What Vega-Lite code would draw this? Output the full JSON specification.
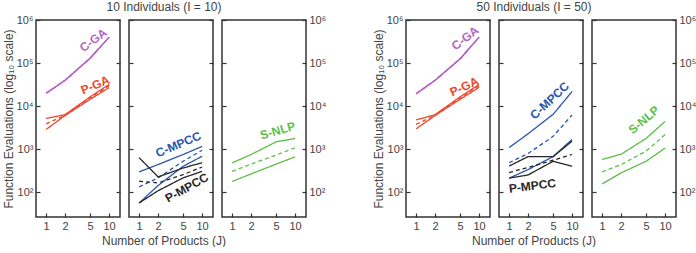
{
  "$schema": "https://vega.github.io/schema/vega-lite/v6.json",
  "padding": {"left": 1, "top": 1, "right": 0, "bottom": 0},
  "background": "white",
  "datasets": {
    "evals": [
      {"grp": "I10", "panel": "GA", "method": "C-GA", "stat": "max", "J": 1, "evals": 20000},
      {"grp": "I10", "panel": "GA", "method": "C-GA", "stat": "max", "J": 2, "evals": 40000},
      {"grp": "I10", "panel": "GA", "method": "C-GA", "stat": "max", "J": 5, "evals": 130000},
      {"grp": "I10", "panel": "GA", "method": "C-GA", "stat": "max", "J": 10, "evals": 400000},
      {"grp": "I10", "panel": "GA", "method": "C-GA", "stat": "mean", "J": 1, "evals": 20000},
      {"grp": "I10", "panel": "GA", "method": "C-GA", "stat": "mean", "J": 2, "evals": 40000},
      {"grp": "I10", "panel": "GA", "method": "C-GA", "stat": "mean", "J": 5, "evals": 130000},
      {"grp": "I10", "panel": "GA", "method": "C-GA", "stat": "mean", "J": 10, "evals": 400000},
      {"grp": "I10", "panel": "GA", "method": "C-GA", "stat": "min", "J": 1, "evals": 20000},
      {"grp": "I10", "panel": "GA", "method": "C-GA", "stat": "min", "J": 2, "evals": 40000},
      {"grp": "I10", "panel": "GA", "method": "C-GA", "stat": "min", "J": 5, "evals": 130000},
      {"grp": "I10", "panel": "GA", "method": "C-GA", "stat": "min", "J": 10, "evals": 400000},
      {"grp": "I10", "panel": "GA", "method": "P-GA", "stat": "max", "J": 1, "evals": 5200},
      {"grp": "I10", "panel": "GA", "method": "P-GA", "stat": "max", "J": 2, "evals": 6400},
      {"grp": "I10", "panel": "GA", "method": "P-GA", "stat": "max", "J": 5, "evals": 16500},
      {"grp": "I10", "panel": "GA", "method": "P-GA", "stat": "max", "J": 10, "evals": 32000},
      {"grp": "I10", "panel": "GA", "method": "P-GA", "stat": "mean", "J": 1, "evals": 3900},
      {"grp": "I10", "panel": "GA", "method": "P-GA", "stat": "mean", "J": 2, "evals": 6200},
      {"grp": "I10", "panel": "GA", "method": "P-GA", "stat": "mean", "J": 5, "evals": 15500},
      {"grp": "I10", "panel": "GA", "method": "P-GA", "stat": "mean", "J": 10, "evals": 30000},
      {"grp": "I10", "panel": "GA", "method": "P-GA", "stat": "min", "J": 1, "evals": 2900},
      {"grp": "I10", "panel": "GA", "method": "P-GA", "stat": "min", "J": 2, "evals": 6100},
      {"grp": "I10", "panel": "GA", "method": "P-GA", "stat": "min", "J": 5, "evals": 14500},
      {"grp": "I10", "panel": "GA", "method": "P-GA", "stat": "min", "J": 10, "evals": 27000},
      {"grp": "I10", "panel": "MPCC", "method": "C-MPCC", "stat": "max", "J": 1, "evals": 300},
      {"grp": "I10", "panel": "MPCC", "method": "C-MPCC", "stat": "max", "J": 2, "evals": 445},
      {"grp": "I10", "panel": "MPCC", "method": "C-MPCC", "stat": "max", "J": 5, "evals": 760},
      {"grp": "I10", "panel": "MPCC", "method": "C-MPCC", "stat": "max", "J": 10, "evals": 1170},
      {"grp": "I10", "panel": "MPCC", "method": "C-MPCC", "stat": "mean", "J": 1, "evals": 135},
      {"grp": "I10", "panel": "MPCC", "method": "C-MPCC", "stat": "mean", "J": 2, "evals": 218},
      {"grp": "I10", "panel": "MPCC", "method": "C-MPCC", "stat": "mean", "J": 5, "evals": 530},
      {"grp": "I10", "panel": "MPCC", "method": "C-MPCC", "stat": "mean", "J": 10, "evals": 955},
      {"grp": "I10", "panel": "MPCC", "method": "C-MPCC", "stat": "min", "J": 1, "evals": 57},
      {"grp": "I10", "panel": "MPCC", "method": "C-MPCC", "stat": "min", "J": 2, "evals": 145},
      {"grp": "I10", "panel": "MPCC", "method": "C-MPCC", "stat": "min", "J": 5, "evals": 405},
      {"grp": "I10", "panel": "MPCC", "method": "C-MPCC", "stat": "min", "J": 10, "evals": 690},
      {"grp": "I10", "panel": "MPCC", "method": "P-MPCC", "stat": "max", "J": 1, "evals": 640},
      {"grp": "I10", "panel": "MPCC", "method": "P-MPCC", "stat": "max", "J": 2, "evals": 230},
      {"grp": "I10", "panel": "MPCC", "method": "P-MPCC", "stat": "max", "J": 5, "evals": 370},
      {"grp": "I10", "panel": "MPCC", "method": "P-MPCC", "stat": "max", "J": 10, "evals": 490},
      {"grp": "I10", "panel": "MPCC", "method": "P-MPCC", "stat": "mean", "J": 1, "evals": 182},
      {"grp": "I10", "panel": "MPCC", "method": "P-MPCC", "stat": "mean", "J": 2, "evals": 167},
      {"grp": "I10", "panel": "MPCC", "method": "P-MPCC", "stat": "mean", "J": 5, "evals": 260},
      {"grp": "I10", "panel": "MPCC", "method": "P-MPCC", "stat": "mean", "J": 10, "evals": 390},
      {"grp": "I10", "panel": "MPCC", "method": "P-MPCC", "stat": "min", "J": 1, "evals": 57},
      {"grp": "I10", "panel": "MPCC", "method": "P-MPCC", "stat": "min", "J": 2, "evals": 110},
      {"grp": "I10", "panel": "MPCC", "method": "P-MPCC", "stat": "min", "J": 5, "evals": 218},
      {"grp": "I10", "panel": "MPCC", "method": "P-MPCC", "stat": "min", "J": 10, "evals": 310},
      {"grp": "I10", "panel": "NLP", "method": "S-NLP", "stat": "max", "J": 1, "evals": 485},
      {"grp": "I10", "panel": "NLP", "method": "S-NLP", "stat": "max", "J": 2, "evals": 760},
      {"grp": "I10", "panel": "NLP", "method": "S-NLP", "stat": "max", "J": 5, "evals": 1500},
      {"grp": "I10", "panel": "NLP", "method": "S-NLP", "stat": "max", "J": 10, "evals": 1780},
      {"grp": "I10", "panel": "NLP", "method": "S-NLP", "stat": "mean", "J": 1, "evals": 310},
      {"grp": "I10", "panel": "NLP", "method": "S-NLP", "stat": "mean", "J": 2, "evals": 455},
      {"grp": "I10", "panel": "NLP", "method": "S-NLP", "stat": "mean", "J": 5, "evals": 740},
      {"grp": "I10", "panel": "NLP", "method": "S-NLP", "stat": "mean", "J": 10, "evals": 1090},
      {"grp": "I10", "panel": "NLP", "method": "S-NLP", "stat": "min", "J": 1, "evals": 180},
      {"grp": "I10", "panel": "NLP", "method": "S-NLP", "stat": "min", "J": 2, "evals": 270},
      {"grp": "I10", "panel": "NLP", "method": "S-NLP", "stat": "min", "J": 5, "evals": 455},
      {"grp": "I10", "panel": "NLP", "method": "S-NLP", "stat": "min", "J": 10, "evals": 670},

      {"grp": "I50", "panel": "GA", "method": "C-GA", "stat": "max", "J": 1, "evals": 19500},
      {"grp": "I50", "panel": "GA", "method": "C-GA", "stat": "max", "J": 2, "evals": 40000},
      {"grp": "I50", "panel": "GA", "method": "C-GA", "stat": "max", "J": 5, "evals": 126000},
      {"grp": "I50", "panel": "GA", "method": "C-GA", "stat": "max", "J": 10, "evals": 400000},
      {"grp": "I50", "panel": "GA", "method": "C-GA", "stat": "mean", "J": 1, "evals": 19500},
      {"grp": "I50", "panel": "GA", "method": "C-GA", "stat": "mean", "J": 2, "evals": 40000},
      {"grp": "I50", "panel": "GA", "method": "C-GA", "stat": "mean", "J": 5, "evals": 126000},
      {"grp": "I50", "panel": "GA", "method": "C-GA", "stat": "mean", "J": 10, "evals": 400000},
      {"grp": "I50", "panel": "GA", "method": "C-GA", "stat": "min", "J": 1, "evals": 19500},
      {"grp": "I50", "panel": "GA", "method": "C-GA", "stat": "min", "J": 2, "evals": 40000},
      {"grp": "I50", "panel": "GA", "method": "C-GA", "stat": "min", "J": 5, "evals": 126000},
      {"grp": "I50", "panel": "GA", "method": "C-GA", "stat": "min", "J": 10, "evals": 400000},
      {"grp": "I50", "panel": "GA", "method": "P-GA", "stat": "max", "J": 1, "evals": 4800},
      {"grp": "I50", "panel": "GA", "method": "P-GA", "stat": "max", "J": 2, "evals": 6400},
      {"grp": "I50", "panel": "GA", "method": "P-GA", "stat": "max", "J": 5, "evals": 16500},
      {"grp": "I50", "panel": "GA", "method": "P-GA", "stat": "max", "J": 10, "evals": 32000},
      {"grp": "I50", "panel": "GA", "method": "P-GA", "stat": "mean", "J": 1, "evals": 3800},
      {"grp": "I50", "panel": "GA", "method": "P-GA", "stat": "mean", "J": 2, "evals": 6200},
      {"grp": "I50", "panel": "GA", "method": "P-GA", "stat": "mean", "J": 5, "evals": 15500},
      {"grp": "I50", "panel": "GA", "method": "P-GA", "stat": "mean", "J": 10, "evals": 30000},
      {"grp": "I50", "panel": "GA", "method": "P-GA", "stat": "min", "J": 1, "evals": 3000},
      {"grp": "I50", "panel": "GA", "method": "P-GA", "stat": "min", "J": 2, "evals": 6100},
      {"grp": "I50", "panel": "GA", "method": "P-GA", "stat": "min", "J": 5, "evals": 14500},
      {"grp": "I50", "panel": "GA", "method": "P-GA", "stat": "min", "J": 10, "evals": 27500},
      {"grp": "I50", "panel": "MPCC", "method": "C-MPCC", "stat": "max", "J": 1, "evals": 1100},
      {"grp": "I50", "panel": "MPCC", "method": "C-MPCC", "stat": "max", "J": 2, "evals": 2300},
      {"grp": "I50", "panel": "MPCC", "method": "C-MPCC", "stat": "max", "J": 5, "evals": 6500},
      {"grp": "I50", "panel": "MPCC", "method": "C-MPCC", "stat": "max", "J": 10, "evals": 22000},
      {"grp": "I50", "panel": "MPCC", "method": "C-MPCC", "stat": "mean", "J": 1, "evals": 490},
      {"grp": "I50", "panel": "MPCC", "method": "C-MPCC", "stat": "mean", "J": 2, "evals": 800},
      {"grp": "I50", "panel": "MPCC", "method": "C-MPCC", "stat": "mean", "J": 5, "evals": 2000},
      {"grp": "I50", "panel": "MPCC", "method": "C-MPCC", "stat": "mean", "J": 10, "evals": 6300},
      {"grp": "I50", "panel": "MPCC", "method": "C-MPCC", "stat": "min", "J": 1, "evals": 215},
      {"grp": "I50", "panel": "MPCC", "method": "C-MPCC", "stat": "min", "J": 2, "evals": 340},
      {"grp": "I50", "panel": "MPCC", "method": "C-MPCC", "stat": "min", "J": 5, "evals": 680},
      {"grp": "I50", "panel": "MPCC", "method": "C-MPCC", "stat": "min", "J": 10, "evals": 1700},
      {"grp": "I50", "panel": "MPCC", "method": "P-MPCC", "stat": "max", "J": 1, "evals": 410},
      {"grp": "I50", "panel": "MPCC", "method": "P-MPCC", "stat": "max", "J": 2, "evals": 680},
      {"grp": "I50", "panel": "MPCC", "method": "P-MPCC", "stat": "max", "J": 5, "evals": 680},
      {"grp": "I50", "panel": "MPCC", "method": "P-MPCC", "stat": "max", "J": 10, "evals": 1550},
      {"grp": "I50", "panel": "MPCC", "method": "P-MPCC", "stat": "mean", "J": 1, "evals": 290},
      {"grp": "I50", "panel": "MPCC", "method": "P-MPCC", "stat": "mean", "J": 2, "evals": 380},
      {"grp": "I50", "panel": "MPCC", "method": "P-MPCC", "stat": "mean", "J": 5, "evals": 560},
      {"grp": "I50", "panel": "MPCC", "method": "P-MPCC", "stat": "mean", "J": 10, "evals": 760},
      {"grp": "I50", "panel": "MPCC", "method": "P-MPCC", "stat": "min", "J": 1, "evals": 215},
      {"grp": "I50", "panel": "MPCC", "method": "P-MPCC", "stat": "min", "J": 2, "evals": 255},
      {"grp": "I50", "panel": "MPCC", "method": "P-MPCC", "stat": "min", "J": 5, "evals": 530},
      {"grp": "I50", "panel": "MPCC", "method": "P-MPCC", "stat": "min", "J": 10, "evals": 405},
      {"grp": "I50", "panel": "NLP", "method": "S-NLP", "stat": "max", "J": 1, "evals": 585},
      {"grp": "I50", "panel": "NLP", "method": "S-NLP", "stat": "max", "J": 2, "evals": 770},
      {"grp": "I50", "panel": "NLP", "method": "S-NLP", "stat": "max", "J": 5, "evals": 1800},
      {"grp": "I50", "panel": "NLP", "method": "S-NLP", "stat": "max", "J": 10, "evals": 4450},
      {"grp": "I50", "panel": "NLP", "method": "S-NLP", "stat": "mean", "J": 1, "evals": 300},
      {"grp": "I50", "panel": "NLP", "method": "S-NLP", "stat": "mean", "J": 2, "evals": 445},
      {"grp": "I50", "panel": "NLP", "method": "S-NLP", "stat": "mean", "J": 5, "evals": 910},
      {"grp": "I50", "panel": "NLP", "method": "S-NLP", "stat": "mean", "J": 10, "evals": 2200},
      {"grp": "I50", "panel": "NLP", "method": "S-NLP", "stat": "min", "J": 1, "evals": 158},
      {"grp": "I50", "panel": "NLP", "method": "S-NLP", "stat": "min", "J": 2, "evals": 285},
      {"grp": "I50", "panel": "NLP", "method": "S-NLP", "stat": "min", "J": 5, "evals": 530},
      {"grp": "I50", "panel": "NLP", "method": "S-NLP", "stat": "min", "J": 10, "evals": 1070}
    ],
    "labels": [
      {"grp": "I10", "method": "C-GA", "J": 5.6, "evals": 340000},
      {"grp": "I10", "method": "P-GA", "J": 6.0, "evals": 31000},
      {"grp": "I10", "method": "C-MPCC", "J": 4.2, "evals": 1300},
      {"grp": "I10", "method": "P-MPCC", "J": 5.7, "evals": 128},
      {"grp": "I10", "method": "S-NLP", "J": 5.3, "evals": 2700},
      {"grp": "I50", "method": "C-GA", "J": 6.0, "evals": 380000},
      {"grp": "I50", "method": "P-GA", "J": 5.8, "evals": 28500},
      {"grp": "I50", "method": "C-MPCC", "J": 4.4, "evals": 13500},
      {"grp": "I50", "method": "P-MPCC", "J": 2.34, "evals": 142},
      {"grp": "I50", "method": "S-NLP", "J": 4.6, "evals": 4800}
    ]
  },
  "config": {
    "font": "Liberation Sans",
    "view": {"stroke": "#333333", "strokeWidth": 1.5},
    "axis": {
      "domain": false,
      "grid": false,
      "ticks": true,
      "tickSize": -4,
      "tickWidth": 1.2,
      "tickColor": "#333333",
      "labelFont": "Liberation Sans",
      "labelFontSize": 11,
      "labelColor": "#444444",
      "labelPadding": 7,
      "titleFont": "Liberation Sans",
      "titleFontSize": 12,
      "titleFontWeight": "normal",
      "titleColor": "#444444"
    },
    "title": {"font": "Liberation Sans", "fontSize": 12, "fontWeight": "normal", "color": "#444444", "anchor": "middle", "offset": -1},
    "text": {"font": "Liberation Sans", "fontSize": 12, "fontWeight": "bold"}
  },
  "spacing": 44,
  "hconcat": [
    {
      "title": "10 Individuals (I = 10)",
      "hconcat": [
        {
          "title": {"text": "Number of Products (J)", "orient": "bottom", "offset": 4},
          "spacing": 5,
          "hconcat": [
            {
              "width": 84, "height": 197,
              "resolve": {"axis": {"y": "independent"}},
              "layer": [
                {
                  "data": {"name": "evals"},
                  "transform": [{"filter": "datum.grp == 'I10' && datum.panel == 'GA'"}],
                  "mark": {"type": "line", "strokeWidth": 1.3},
                  "encoding": {
                    "x": {"field": "J", "type": "quantitative", "scale": {"type": "log", "domain": [0.69, 14.9], "nice": false}, "axis": {"values": [1, 2, 5, 10], "format": "d", "title": null}},
                    "y": {"field": "evals", "type": "quantitative", "scale": {"type": "log", "domain": [27, 1000000], "nice": false}, "axis": {"orient": "left", "values": [100, 1000, 10000, 100000, 1000000], "labelExpr": "datum.value < 500 ? '10²' : datum.value < 5000 ? '10³' : datum.value < 50000 ? '10⁴' : datum.value < 500000 ? '10⁵' : '10⁶'", "title": "Function Evaluations (log₁₀ scale)", "titlePadding": 1}},
                    "color": {"field": "method", "type": "nominal", "scale": {"domain": ["C-GA", "P-GA", "C-MPCC", "P-MPCC", "S-NLP"], "range": ["#B463C8", "#F0462A", "#2A56B0", "#262626", "#5CBF48"]}, "legend": null},
                    "strokeDash": {"field": "stat", "type": "nominal", "scale": {"domain": ["max", "mean", "min"], "range": [[1, 0], [4, 3], [1, 0]]}, "legend": null},
                    "detail": {"field": "stat"}
                  }
                },
                {
                  "data": {"name": "evals"},
                  "transform": [{"filter": "datum.grp == 'I10' && datum.panel == 'GA'"}],
                  "mark": {"type": "point", "opacity": 0},
                  "encoding": {
                    "x": {"field": "J", "type": "quantitative", "axis": {"values": [1, 2, 5, 10], "format": "d", "title": null}},
                    "y": {"field": "evals", "type": "quantitative", "axis": {"orient": "right", "values": [100, 1000, 10000, 100000, 1000000], "labels": false, "title": null}}
                  }
                },
                {
                  "data": {"name": "labels"},
                  "transform": [{"filter": "datum.grp == 'I10' && datum.method == 'C-GA'"}],
                  "mark": {"type": "text", "angle": 323},
                  "encoding": {
                    "x": {"field": "J", "type": "quantitative", "axis": {"values": [1, 2, 5, 10], "format": "d", "title": null}},
                    "y": {"field": "evals", "type": "quantitative", "axis": null},
                    "text": {"field": "method"},
                    "color": {"field": "method", "type": "nominal", "legend": null}
                  }
                },
                {
                  "data": {"name": "labels"},
                  "transform": [{"filter": "datum.grp == 'I10' && datum.method == 'P-GA'"}],
                  "mark": {"type": "text", "angle": 337},
                  "encoding": {
                    "x": {"field": "J", "type": "quantitative", "axis": {"values": [1, 2, 5, 10], "format": "d", "title": null}},
                    "y": {"field": "evals", "type": "quantitative", "axis": null},
                    "text": {"field": "method"},
                    "color": {"field": "method", "type": "nominal", "legend": null}
                  }
                }
              ]
            },
            {
              "width": 84, "height": 197,
              "resolve": {"axis": {"y": "independent"}},
              "layer": [
                {
                  "data": {"name": "evals"},
                  "transform": [{"filter": "datum.grp == 'I10' && datum.panel == 'MPCC'"}],
                  "mark": {"type": "line", "strokeWidth": 1.3},
                  "encoding": {
                    "x": {"field": "J", "type": "quantitative", "scale": {"type": "log", "domain": [0.69, 14.9], "nice": false}, "axis": {"values": [1, 2, 5, 10], "format": "d", "title": null}},
                    "y": {"field": "evals", "type": "quantitative", "scale": {"type": "log", "domain": [27, 1000000], "nice": false}, "axis": {"orient": "left", "values": [100, 1000, 10000, 100000, 1000000], "labels": false, "title": null}},
                    "color": {"field": "method", "type": "nominal", "scale": {"domain": ["C-GA", "P-GA", "C-MPCC", "P-MPCC", "S-NLP"], "range": ["#B463C8", "#F0462A", "#2A56B0", "#262626", "#5CBF48"]}, "legend": null},
                    "strokeDash": {"field": "stat", "type": "nominal", "scale": {"domain": ["max", "mean", "min"], "range": [[1, 0], [4, 3], [1, 0]]}, "legend": null},
                    "detail": {"field": "stat"}
                  }
                },
                {
                  "data": {"name": "evals"},
                  "transform": [{"filter": "datum.grp == 'I10' && datum.panel == 'MPCC'"}],
                  "mark": {"type": "point", "opacity": 0},
                  "encoding": {
                    "x": {"field": "J", "type": "quantitative", "axis": {"values": [1, 2, 5, 10], "format": "d", "title": null}},
                    "y": {"field": "evals", "type": "quantitative", "axis": {"orient": "right", "values": [100, 1000, 10000, 100000, 1000000], "labels": false, "title": null}}
                  }
                },
                {
                  "data": {"name": "labels"},
                  "transform": [{"filter": "datum.grp == 'I10' && datum.method == 'C-MPCC'"}],
                  "mark": {"type": "text", "angle": 337},
                  "encoding": {
                    "x": {"field": "J", "type": "quantitative", "axis": {"values": [1, 2, 5, 10], "format": "d", "title": null}},
                    "y": {"field": "evals", "type": "quantitative", "axis": null},
                    "text": {"field": "method"},
                    "color": {"field": "method", "type": "nominal", "legend": null}
                  }
                },
                {
                  "data": {"name": "labels"},
                  "transform": [{"filter": "datum.grp == 'I10' && datum.method == 'P-MPCC'"}],
                  "mark": {"type": "text", "angle": 331},
                  "encoding": {
                    "x": {"field": "J", "type": "quantitative", "axis": {"values": [1, 2, 5, 10], "format": "d", "title": null}},
                    "y": {"field": "evals", "type": "quantitative", "axis": null},
                    "text": {"field": "method"},
                    "color": {"field": "method", "type": "nominal", "legend": null}
                  }
                }
              ]
            },
            {
              "width": 84, "height": 197,
              "resolve": {"axis": {"y": "independent"}},
              "layer": [
                {
                  "data": {"name": "evals"},
                  "transform": [{"filter": "datum.grp == 'I10' && datum.panel == 'NLP'"}],
                  "mark": {"type": "line", "strokeWidth": 1.3},
                  "encoding": {
                    "x": {"field": "J", "type": "quantitative", "scale": {"type": "log", "domain": [0.69, 14.9], "nice": false}, "axis": {"values": [1, 2, 5, 10], "format": "d", "title": null}},
                    "y": {"field": "evals", "type": "quantitative", "scale": {"type": "log", "domain": [27, 1000000], "nice": false}, "axis": {"orient": "left", "values": [100, 1000, 10000, 100000, 1000000], "labels": false, "title": null}},
                    "color": {"field": "method", "type": "nominal", "scale": {"domain": ["C-GA", "P-GA", "C-MPCC", "P-MPCC", "S-NLP"], "range": ["#B463C8", "#F0462A", "#2A56B0", "#262626", "#5CBF48"]}, "legend": null},
                    "strokeDash": {"field": "stat", "type": "nominal", "scale": {"domain": ["max", "mean", "min"], "range": [[1, 0], [4, 3], [1, 0]]}, "legend": null},
                    "detail": {"field": "stat"}
                  }
                },
                {
                  "data": {"name": "evals"},
                  "transform": [{"filter": "datum.grp == 'I10' && datum.panel == 'NLP'"}],
                  "mark": {"type": "point", "opacity": 0},
                  "encoding": {
                    "x": {"field": "J", "type": "quantitative", "axis": {"values": [1, 2, 5, 10], "format": "d", "title": null}},
                    "y": {"field": "evals", "type": "quantitative", "axis": {"orient": "right", "values": [100, 1000, 10000, 100000, 1000000], "labelColor": "#444444", "labelExpr": "datum.value < 500 ? '10²' : datum.value < 5000 ? '10³' : datum.value < 50000 ? '10⁴' : datum.value < 500000 ? '10⁵' : '10⁶'", "title": null}}
                  }
                },
                {
                  "data": {"name": "labels"},
                  "transform": [{"filter": "datum.grp == 'I10' && datum.method == 'S-NLP'"}],
                  "mark": {"type": "text", "angle": 344},
                  "encoding": {
                    "x": {"field": "J", "type": "quantitative", "axis": {"values": [1, 2, 5, 10], "format": "d", "title": null}},
                    "y": {"field": "evals", "type": "quantitative", "axis": null},
                    "text": {"field": "method"},
                    "color": {"field": "method", "type": "nominal", "legend": null}
                  }
                }
              ]
            }
          ]
        }
      ]
    },
    {
      "title": "50 Individuals (I = 50)",
      "hconcat": [
        {
          "title": {"text": "Number of Products (J)", "orient": "bottom", "offset": 4},
          "spacing": 5,
          "hconcat": [
            {
              "width": 84, "height": 197,
              "resolve": {"axis": {"y": "independent"}},
              "layer": [
                {
                  "data": {"name": "evals"},
                  "transform": [{"filter": "datum.grp == 'I50' && datum.panel == 'GA'"}],
                  "mark": {"type": "line", "strokeWidth": 1.3},
                  "encoding": {
                    "x": {"field": "J", "type": "quantitative", "scale": {"type": "log", "domain": [0.69, 14.9], "nice": false}, "axis": {"values": [1, 2, 5, 10], "format": "d", "title": null}},
                    "y": {"field": "evals", "type": "quantitative", "scale": {"type": "log", "domain": [27, 1000000], "nice": false}, "axis": {"orient": "left", "values": [100, 1000, 10000, 100000, 1000000], "labelExpr": "datum.value < 500 ? '10²' : datum.value < 5000 ? '10³' : datum.value < 50000 ? '10⁴' : datum.value < 500000 ? '10⁵' : '10⁶'", "title": "Function Evaluations (log₁₀ scale)", "titlePadding": 1}},
                    "color": {"field": "method", "type": "nominal", "scale": {"domain": ["C-GA", "P-GA", "C-MPCC", "P-MPCC", "S-NLP"], "range": ["#B463C8", "#F0462A", "#2A56B0", "#262626", "#5CBF48"]}, "legend": null},
                    "strokeDash": {"field": "stat", "type": "nominal", "scale": {"domain": ["max", "mean", "min"], "range": [[1, 0], [4, 3], [1, 0]]}, "legend": null},
                    "detail": {"field": "stat"}
                  }
                },
                {
                  "data": {"name": "evals"},
                  "transform": [{"filter": "datum.grp == 'I50' && datum.panel == 'GA'"}],
                  "mark": {"type": "point", "opacity": 0},
                  "encoding": {
                    "x": {"field": "J", "type": "quantitative", "axis": {"values": [1, 2, 5, 10], "format": "d", "title": null}},
                    "y": {"field": "evals", "type": "quantitative", "axis": {"orient": "right", "values": [100, 1000, 10000, 100000, 1000000], "labels": false, "title": null}}
                  }
                },
                {
                  "data": {"name": "labels"},
                  "transform": [{"filter": "datum.grp == 'I50' && datum.method == 'C-GA'"}],
                  "mark": {"type": "text", "angle": 322},
                  "encoding": {
                    "x": {"field": "J", "type": "quantitative", "axis": {"values": [1, 2, 5, 10], "format": "d", "title": null}},
                    "y": {"field": "evals", "type": "quantitative", "axis": null},
                    "text": {"field": "method"},
                    "color": {"field": "method", "type": "nominal", "legend": null}
                  }
                },
                {
                  "data": {"name": "labels"},
                  "transform": [{"filter": "datum.grp == 'I50' && datum.method == 'P-GA'"}],
                  "mark": {"type": "text", "angle": 335},
                  "encoding": {
                    "x": {"field": "J", "type": "quantitative", "axis": {"values": [1, 2, 5, 10], "format": "d", "title": null}},
                    "y": {"field": "evals", "type": "quantitative", "axis": null},
                    "text": {"field": "method"},
                    "color": {"field": "method", "type": "nominal", "legend": null}
                  }
                }
              ]
            },
            {
              "width": 84, "height": 197,
              "resolve": {"axis": {"y": "independent"}},
              "layer": [
                {
                  "data": {"name": "evals"},
                  "transform": [{"filter": "datum.grp == 'I50' && datum.panel == 'MPCC'"}],
                  "mark": {"type": "line", "strokeWidth": 1.3},
                  "encoding": {
                    "x": {"field": "J", "type": "quantitative", "scale": {"type": "log", "domain": [0.69, 14.9], "nice": false}, "axis": {"values": [1, 2, 5, 10], "format": "d", "title": null}},
                    "y": {"field": "evals", "type": "quantitative", "scale": {"type": "log", "domain": [27, 1000000], "nice": false}, "axis": {"orient": "left", "values": [100, 1000, 10000, 100000, 1000000], "labels": false, "title": null}},
                    "color": {"field": "method", "type": "nominal", "scale": {"domain": ["C-GA", "P-GA", "C-MPCC", "P-MPCC", "S-NLP"], "range": ["#B463C8", "#F0462A", "#2A56B0", "#262626", "#5CBF48"]}, "legend": null},
                    "strokeDash": {"field": "stat", "type": "nominal", "scale": {"domain": ["max", "mean", "min"], "range": [[1, 0], [4, 3], [1, 0]]}, "legend": null},
                    "detail": {"field": "stat"}
                  }
                },
                {
                  "data": {"name": "evals"},
                  "transform": [{"filter": "datum.grp == 'I50' && datum.panel == 'MPCC'"}],
                  "mark": {"type": "point", "opacity": 0},
                  "encoding": {
                    "x": {"field": "J", "type": "quantitative", "axis": {"values": [1, 2, 5, 10], "format": "d", "title": null}},
                    "y": {"field": "evals", "type": "quantitative", "axis": {"orient": "right", "values": [100, 1000, 10000, 100000, 1000000], "labels": false, "title": null}}
                  }
                },
                {
                  "data": {"name": "labels"},
                  "transform": [{"filter": "datum.grp == 'I50' && datum.method == 'C-MPCC'"}],
                  "mark": {"type": "text", "angle": 317},
                  "encoding": {
                    "x": {"field": "J", "type": "quantitative", "axis": {"values": [1, 2, 5, 10], "format": "d", "title": null}},
                    "y": {"field": "evals", "type": "quantitative", "axis": null},
                    "text": {"field": "method"},
                    "color": {"field": "method", "type": "nominal", "legend": null}
                  }
                },
                {
                  "data": {"name": "labels"},
                  "transform": [{"filter": "datum.grp == 'I50' && datum.method == 'P-MPCC'"}],
                  "mark": {"type": "text", "angle": 353},
                  "encoding": {
                    "x": {"field": "J", "type": "quantitative", "axis": {"values": [1, 2, 5, 10], "format": "d", "title": null}},
                    "y": {"field": "evals", "type": "quantitative", "axis": null},
                    "text": {"field": "method"},
                    "color": {"field": "method", "type": "nominal", "legend": null}
                  }
                }
              ]
            },
            {
              "width": 84, "height": 197,
              "resolve": {"axis": {"y": "independent"}},
              "layer": [
                {
                  "data": {"name": "evals"},
                  "transform": [{"filter": "datum.grp == 'I50' && datum.panel == 'NLP'"}],
                  "mark": {"type": "line", "strokeWidth": 1.3},
                  "encoding": {
                    "x": {"field": "J", "type": "quantitative", "scale": {"type": "log", "domain": [0.69, 14.9], "nice": false}, "axis": {"values": [1, 2, 5, 10], "format": "d", "title": null}},
                    "y": {"field": "evals", "type": "quantitative", "scale": {"type": "log", "domain": [27, 1000000], "nice": false}, "axis": {"orient": "left", "values": [100, 1000, 10000, 100000, 1000000], "labels": false, "title": null}},
                    "color": {"field": "method", "type": "nominal", "scale": {"domain": ["C-GA", "P-GA", "C-MPCC", "P-MPCC", "S-NLP"], "range": ["#B463C8", "#F0462A", "#2A56B0", "#262626", "#5CBF48"]}, "legend": null},
                    "strokeDash": {"field": "stat", "type": "nominal", "scale": {"domain": ["max", "mean", "min"], "range": [[1, 0], [4, 3], [1, 0]]}, "legend": null},
                    "detail": {"field": "stat"}
                  }
                },
                {
                  "data": {"name": "evals"},
                  "transform": [{"filter": "datum.grp == 'I50' && datum.panel == 'NLP'"}],
                  "mark": {"type": "point", "opacity": 0},
                  "encoding": {
                    "x": {"field": "J", "type": "quantitative", "axis": {"values": [1, 2, 5, 10], "format": "d", "title": null}},
                    "y": {"field": "evals", "type": "quantitative", "axis": {"orient": "right", "values": [100, 1000, 10000, 100000, 1000000], "labelColor": "#444444", "labelExpr": "datum.value < 500 ? '10²' : datum.value < 5000 ? '10³' : datum.value < 50000 ? '10⁴' : datum.value < 500000 ? '10⁵' : '10⁶'", "title": null}}
                  }
                },
                {
                  "data": {"name": "labels"},
                  "transform": [{"filter": "datum.grp == 'I50' && datum.method == 'S-NLP'"}],
                  "mark": {"type": "text", "angle": 320},
                  "encoding": {
                    "x": {"field": "J", "type": "quantitative", "axis": {"values": [1, 2, 5, 10], "format": "d", "title": null}},
                    "y": {"field": "evals", "type": "quantitative", "axis": null},
                    "text": {"field": "method"},
                    "color": {"field": "method", "type": "nominal", "legend": null}
                  }
                }
              ]
            }
          ]
        }
      ]
    }
  ]
}
